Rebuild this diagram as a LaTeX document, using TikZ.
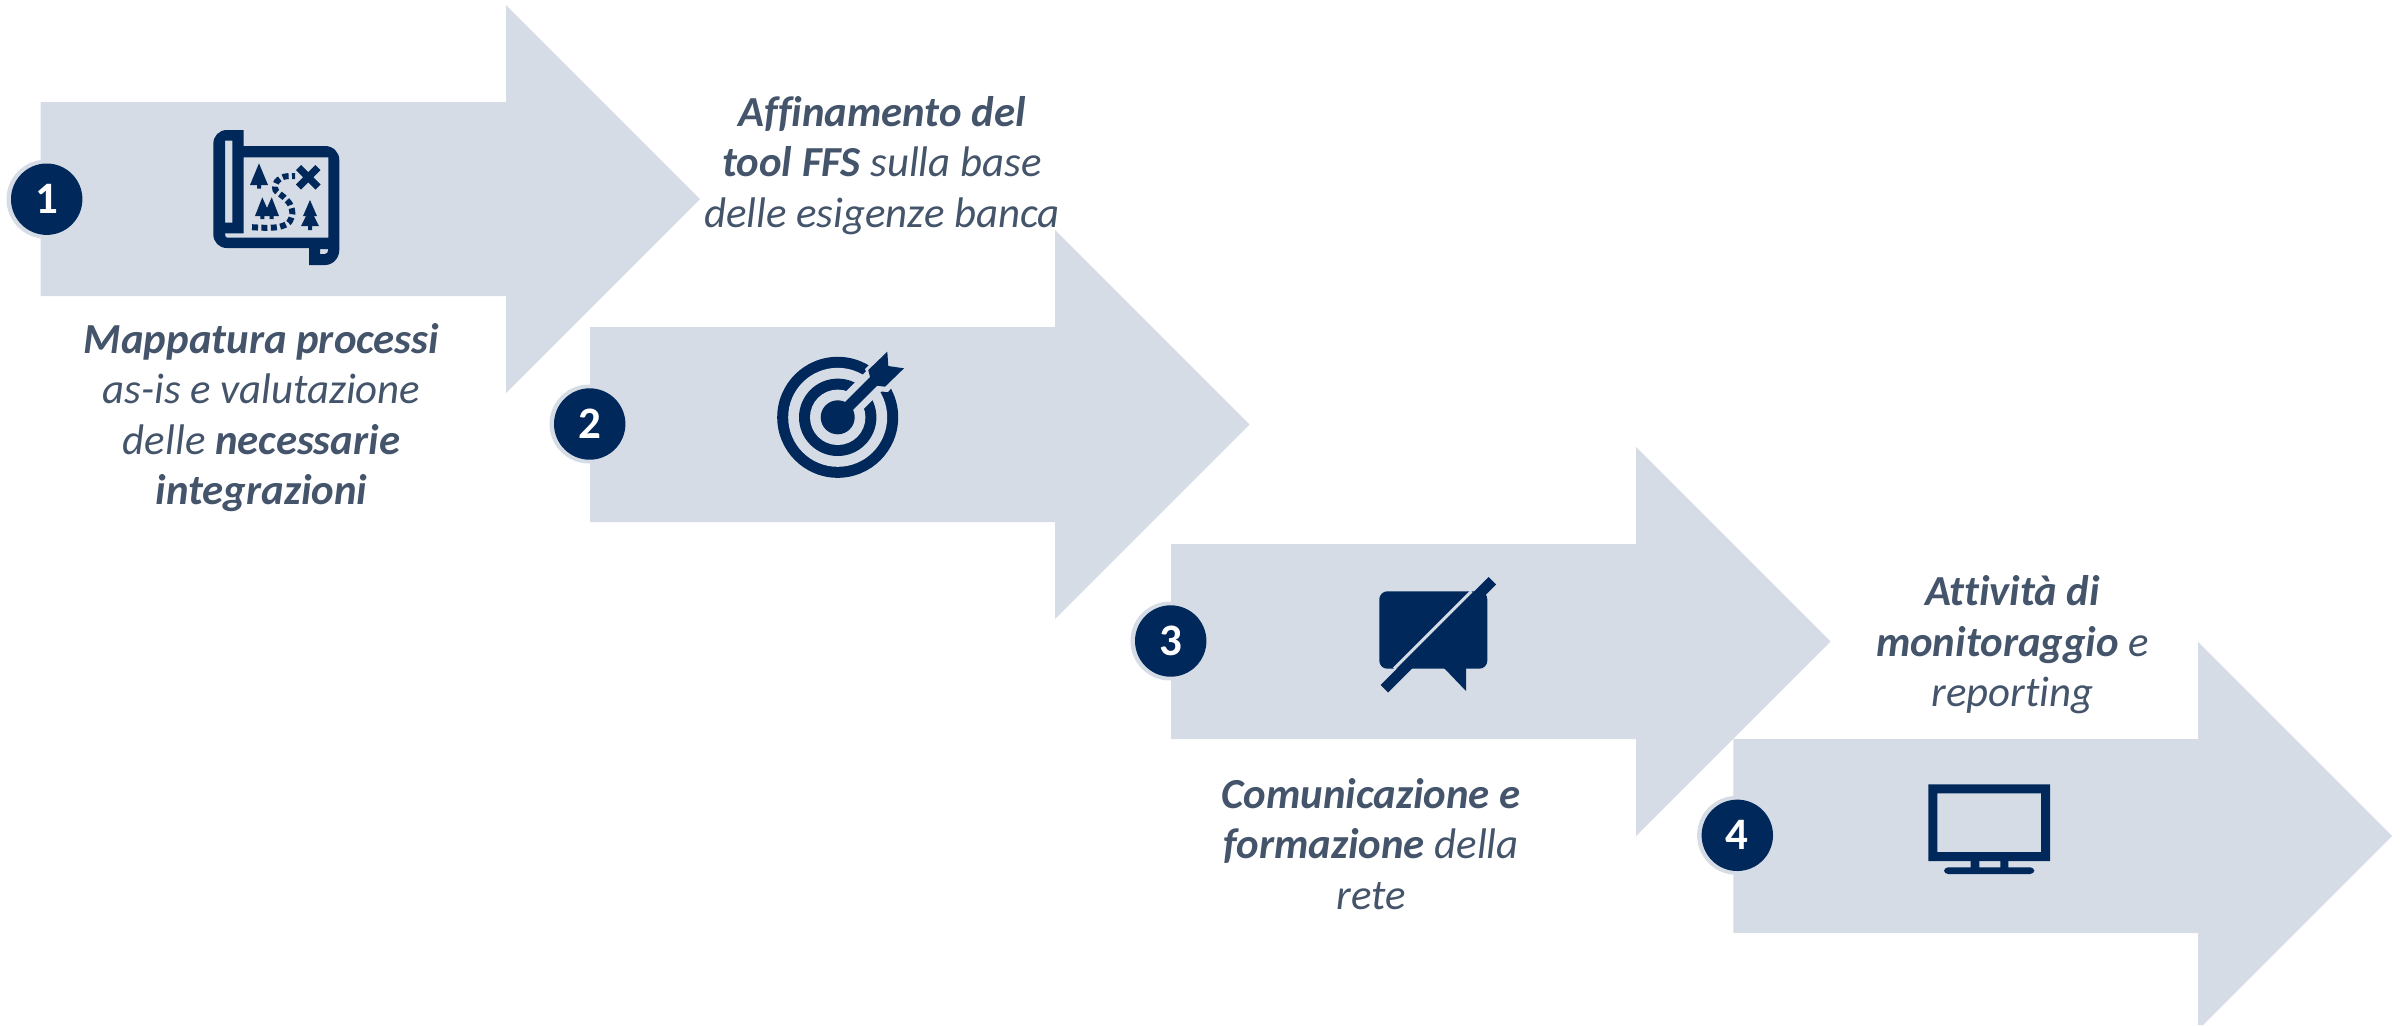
\documentclass[tikz,border=0pt]{standalone}
\usepackage{fontspec}
\setmainfont{Carlito}[Ligatures=NoCommon]
\definecolor{arrowfill}{HTML}{D6DCE5}
\definecolor{navy}{HTML}{00285A}
\definecolor{labeltext}{HTML}{44546A}
\tikzset{
  bigarrow/.style={fill=arrowfill,draw=none},
  icon/.style={fill=navy,draw=none},
  iconbg/.style={fill=arrowfill,draw=none},
  halo/.style={circle,fill=arrowfill,draw=none,minimum size=39.5pt,inner sep=0pt},
  badge/.style={circle,fill=navy,draw=none,text=white,minimum size=35.7pt,inner sep=0pt,
    font=\fontsize{22.5}{24}\selectfont\bfseries},
  label/.style={align=center,text=labeltext,inner sep=0pt,
    font=\fontsize{21.4}{25.25}\selectfont\itshape}
}
\begin{document}
\begin{tikzpicture}[x=0.5pt,y=-0.5pt]
\useasboundingbox (0,0) rectangle (2407,1025);
% arrows
\fill[bigarrow] (40.7,102) -- (506,102) -- (506,5) -- (700,199) -- (506,393) -- (506,296) -- (40.7,296) -- cycle;
\fill[bigarrow] (590,327) -- (1055,327) -- (1055,230) -- (1249.5,424.5) -- (1055,619) -- (1055,522) -- (590,522) -- cycle;
\fill[bigarrow] (1171,544) -- (1636,544) -- (1636,447) -- (1830.5,641.5) -- (1636,836) -- (1636,739) -- (1171,739) -- cycle;
\fill[bigarrow] (1733.3,739) -- (2198,739) -- (2198,642) -- (2392,836) -- (2203,1025) -- (2198,1025) -- (2198,933) -- (1733.3,933) -- cycle;
% badges
\node[halo] (r1) at (46,199.2) {};
\node[badge] (b1) at (46.7,199.2) {1};
\node[halo] (r2) at (589,424) {};
\node[badge] (b2) at (589.7,424) {2};
\node[halo] (r3) at (1170,641) {};
\node[badge] (b3) at (1170.7,641) {3};
\node[halo] (r4) at (1736.6,835.3) {};
\node[badge] (b4) at (1737.3,835.3) {4};
% labels
\node[label] (t1) at (261.5,417.5) {\textbf{Mappatura processi}\\as-is e valutazione\\delle \textbf{necessarie}\\\textbf{integrazioni}};
\node[label] (t2) at (882,165.5) {\textbf{Affinamento del}\\\textbf{tool FFS} sulla base\\delle esigenze banca};
\node[label] (t3) at (1371,844) {\textbf{Comunicazione e}\\\textbf{formazione} della\\rete};
\node[label] (t4) at (2012.5,645) {\textbf{Attività di}\\\textbf{monitoraggio} e\\reporting};
% map icon
\fill[icon,rounded corners=0pt,even odd rule]
  (243.7,130) -- (243.7,146) -- (325,146) .. controls (333,146) and (339.3,152) .. (339.3,160)
  -- (339.3,250) .. controls (339.3,258) and (333,265) .. (325,265) -- (309,265) -- (309,248)
  -- (227,248) .. controls (219,248) and (213.3,242) .. (213.3,234) -- (213.3,144)
  .. controls (213.3,136) and (219,130) .. (227,130) -- cycle
  (225,140.7) rectangle (232.3,222.7)
  (243.7,157.3) -- (328.3,157.3) -- (328.3,237.7) -- (227,237.7) .. controls (225.5,237.7) and (225,235.5) .. (225,233.3) -- (243.7,233.3) -- cycle
  (320,249) -- (328.3,249) .. controls (328.3,252) and (327,254) .. (325,254) -- (320,254) -- cycle;
\fill[icon] (259,163.3) -- (268,185) -- (261,185) -- (261,188.5) -- (257,188.5) -- (257,185) -- (250,185) -- cycle;
\fill[icon] (262.3,197.3) -- (267,208) -- (271.7,197.3) -- (279,216) -- (273.7,216) -- (273.7,219) -- (269.7,219) -- (269.7,216) -- (264.3,216) -- (264.3,219) -- (260.3,219) -- (260.3,216) -- (255,216) -- cycle;
\fill[icon] (310,200) -- (317,216) -- (314,216) -- (319,226) -- (312,226) -- (312,230) -- (308,230) -- (308,226) -- (301,226) -- (306,216) -- (303,216) -- cycle;
\draw[navy,line width=3.6pt] (298.5,167.5) -- (318,187) (318,167.5) -- (298.5,187);
\draw[navy,line width=3pt,dash pattern=on 3pt off 1.7pt,dash phase=1.5pt] plot[smooth] coordinates {(295,176) (284,176.7) (276.7,181.7) (275.5,190) (284,197.3) (290.3,204.7) (292.3,214) (288.7,222.7) (280,226.7) (270.7,227.7) (261.3,227.7) (249,227)};
% target icon
\node[circle,fill=navy,minimum size=60.5pt,inner sep=0pt] (ta) at (837.7,417.3) {};
\node[circle,fill=arrowfill,minimum size=49.5pt,inner sep=0pt] (tb) at (837.7,417.3) {};
\node[circle,fill=navy,minimum size=38.7pt,inner sep=0pt] (tc) at (837.7,417.3) {};
\node[circle,fill=arrowfill,minimum size=27.7pt,inner sep=0pt] (td) at (837.7,417.3) {};
\draw[arrowfill,line width=12.5pt] (848,407) -- (882,373);
\fill[iconbg] (865,369) -- (888,347) -- (910,366) -- (888,392) -- (874,391) -- cycle;
\node[circle,fill=navy,minimum size=17pt,inner sep=0pt] (te) at (837.7,417.3) {};
\draw[navy,line width=5.6pt] (843,412) -- (880,375);
\fill[icon] (868.3,370) -- (887.3,351.7) -- (888.3,366) -- (904,368.3) -- (885,386.7) -- (872,385) -- cycle;
% chat icon
\fill[icon,rounded corners=4pt] (1379.3,591.3) rectangle (1487.3,668.7);
\fill[icon] (1444,668) -- (1466,691) -- (1466,668) -- cycle;
\fill[icon] (1380.5,685) -- (1488.5,577) -- (1496,584.5) -- (1388,692.5) -- cycle;
\fill[icon] (1410.7,668) -- (1444,668) -- (1444,660) -- (1410.7,660) -- cycle;
\draw[arrowfill,line width=1.5pt] (1394,668.7) -- (1471.3,591.3);
% monitor icon
\fill[icon,even odd rule] (1928.3,784.3) rectangle (2050,861) (1937.3,793.3) rectangle (2041,852);
\fill[icon] (1970.7,861) rectangle (1979.3,868) (2000.3,861) rectangle (2008.3,868);
\fill[icon,rounded corners=2pt] (1944,874) -- (1944,867.3) -- (2034.3,867.3) -- (2034.3,874) -- cycle;
\end{tikzpicture}
\end{document}
